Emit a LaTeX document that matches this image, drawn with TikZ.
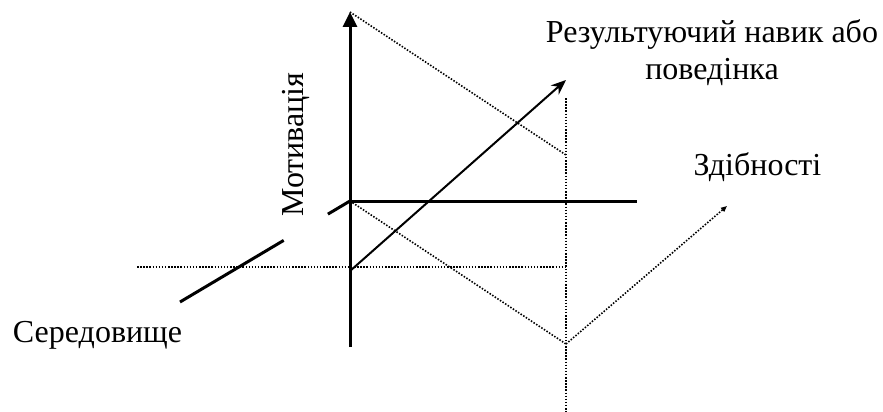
\documentclass[tikz,border=0pt]{standalone}
\usepackage{fontspec}
\setmainfont{Liberation Serif}
\usetikzlibrary{arrows.meta,calc}

\begin{document}
\begin{tikzpicture}[x=1pt,y=-1pt,
  axis/.style={line width=3pt},
  guide/.style={line width=1.6pt,dash pattern=on 1.5pt off 1.6pt},
  lbl/.style={font=\fontsize{32}{37}\selectfont,inner sep=0pt,anchor=base}]
  \useasboundingbox (0,0) rectangle (883,412);
  % axis points
  \coordinate (O) at (350,201);
  \coordinate (Mtop) at (350,12);
  \coordinate (Mbot) at (350,347);
  \coordinate (Send) at (180,302);
  \coordinate (Zend) at (637,201);
  \coordinate (R0) at (350,271);
  \coordinate (R1) at (566,80);
  % guide points
  \coordinate (V0) at (566,98);
  \coordinate (V1) at (566,412);
  \coordinate (P) at (566,155);
  \coordinate (Q) at (566,344);
  \coordinate (H0) at (137,267);
  \coordinate (H1) at (566,267);
  \coordinate (A) at (727,206);

  % dotted guides
  \draw[guide] (V0) -- (V1);
  \draw[guide] (H0) -- (H1);
  \draw[guide] (Mtop) -- (P);
  \draw[guide] (O) -- (Q);
  \draw[guide,-{Triangle[length=6pt,width=5pt]}] (Q) -- (A);

  % axes
  \draw[axis,-{Triangle[length=15pt,width=14pt]}] (Mbot) -- (Mtop);
  \draw[axis] (O) -- (Zend);
  \draw[axis] (O) -- ($(O)!0.13!(Send)$);
  \draw[axis] ($(O)!0.39!(Send)$) -- (Send);
  \draw[line width=2pt,-{Stealth[length=15pt,width=12pt]}] (R0) -- (R1);

  % labels
  \node[lbl,rotate=90] (mot) at (303,144.5) {Мотивація};
  \node[lbl] (ser) at (97.5,342) {Середовище};
  \node[lbl] (zd) at (757.5,175) {Здібності};
  \node[lbl,align=center] (res) at (712,80) {Результуючий навик або\\поведінка};
\end{tikzpicture}
\end{document}
